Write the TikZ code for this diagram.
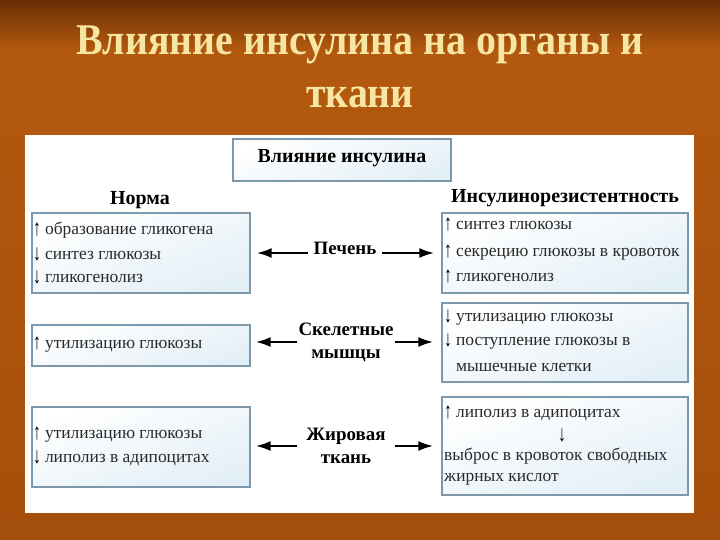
\documentclass[tikz,border=0pt]{standalone}
\usepackage{fontspec}
\setmainfont{Liberation Serif}
\newfontfamily\titlefont[FakeStretch=0.91]{Liberation Serif}
\usetikzlibrary{arrows.meta}
\definecolor{bgtop}{HTML}{6A2E04}
\definecolor{bgmid}{HTML}{B3590F}
\definecolor{bgbot}{HTML}{A54F0C}
\definecolor{titlecol}{HTML}{F6E6A2}
\definecolor{boxborder}{HTML}{7D98AB}
\definecolor{boxfill}{HTML}{E3EFF7}
\definecolor{txt}{HTML}{2A2A2A}
\newcommand\uar{\raisebox{-1bp}{\textcolor{black}{\scalebox{0.9}[1.3]{↑}}}\hspace{4bp}}
\newcommand\dar{\raisebox{-1bp}{\textcolor{black}{\scalebox{0.9}[1.3]{↓}}}\hspace{4bp}}
\tikzset{
  box/.style={draw=boxborder, line width=1.4bp, top color=white, bottom color=boxfill, shading angle=20, inner sep=0pt},
  line/.style={anchor=west, inner sep=0pt, text=txt, font=\fontsize{17.5}{20}\selectfont},
  head/.style={inner sep=0pt, text=black, font=\fontsize{20}{22}\selectfont\bfseries},
  organ/.style={inner sep=0pt, text=black, align=center, font=\fontsize{19}{23}\selectfont\bfseries},
  arr/.style={-{Latex[length=15bp,width=10bp]}, line width=2.2bp, black},
  ttl/.style={inner sep=0pt, font=\fontsize{44}{52}\selectfont\titlefont\bfseries}
}
\begin{document}
\begin{tikzpicture}[x=1bp,y=-1bp]
\useasboundingbox (0,0) rectangle (720,540);
% background
\shade[top color=bgtop, bottom color=bgmid] (0,0) rectangle (720,50);
\shade[top color=bgmid, bottom color=bgbot] (0,50) rectangle (720,540);
% title
\node[ttl, text=titlecol] (t1) at (360,45) {Влияние инсулина на органы и};
\node[ttl, text=titlecol] (t2) at (360,97) {ткани};
% white panel
\fill[white] (25,135) rectangle (694,513);
% top box
\node[box, minimum width=218bp, minimum height=42bp] (top) at (342,160) {};
\node[head] (toplbl) at (342,158) {Влияние инсулина};
\node[head] (norma) at (140,200) {Норма};
\node[head] (ir) at (565,198) {Инсулинорезистентность};
% left boxes
\node[box, minimum width=218bp, minimum height=80bp] (n1) at (141,253) {};
\node[box, minimum width=218bp, minimum height=41bp] (n2) at (141,345.5) {};
\node[box, minimum width=218bp, minimum height=80bp] (n3) at (141,447) {};
% right boxes
\node[box, minimum width=246bp, minimum height=80bp] (r1) at (565,253) {};
\node[box, minimum width=246bp, minimum height=79bp] (r2) at (565,342.5) {};
\node[box, minimum width=246bp, minimum height=98bp] (r3) at (565,446) {};
% left texts
\node[line] (n1a) at (33,230) {\uar образование гликогена};
\node[line] (n1b) at (33,254) {\dar синтез глюкозы};
\node[line] (n1c) at (33,277) {\dar гликогенолиз};
\node[line] (n2a) at (33,345) {\uar утилизацию глюкозы};
\node[line] (n3a) at (33,435) {\uar утилизацию глюкозы};
\node[line] (n3b) at (33,458) {\dar липолиз в адипоцитах};
% right texts
\node[line] (r1a) at (444,224) {\uar синтез глюкозы};
\node[line] (r1b) at (444,252) {\uar секрецию глюкозы в кровоток};
\node[line] (r1c) at (444,276) {\uar гликогенолиз};
\node[line] (r2a) at (444,318) {\dar утилизацию глюкозы};
\node[line] (r2b) at (444,342) {\dar поступление глюкозы в};
\node[line] (r2c) at (444,366) {\phantom{\dar}мышечные клетки};
\node[line] (r3a) at (444,413) {\uar липолиз в адипоцитах};
\node[inner sep=0pt, text=black, font=\fontsize{17.5}{18}\selectfont] (r3arr) at (562,435) {\scalebox{0.9}[1.3]{↓}};
\node[line] (r3b) at (444,456) {выброс в кровоток свободных};
\node[line] (r3c) at (444,479) {жирных кислот};
% organ labels
\node[organ, minimum width=74bp] (liver) at (345,248) {Печень};
\node[organ, minimum width=98bp] (muscle) at (346,342) {Скелетные\\мышцы};
\node[organ, minimum width=98bp] (fat) at (346,446) {Жировая\\ткань};
% arrows
\draw[arr, shorten >=6bp] ([yshift=-5bp]liver.west) -- ([yshift=-5bp]liver.west -| n1.east);
\draw[arr, shorten >=7bp] ([yshift=-5bp]liver.east) -- ([yshift=-5bp]liver.east -| r1.west);
\draw[arr, shorten >=5bp] (muscle.west) -- (muscle.west -| n2.east);
\draw[arr, shorten >=8bp] (muscle.east) -- (muscle.east -| r2.west);
\draw[arr, shorten >=5bp] (fat.west) -- (fat.west -| n3.east);
\draw[arr, shorten >=8bp] (fat.east) -- (fat.east -| r3.west);
\end{tikzpicture}
\end{document}
